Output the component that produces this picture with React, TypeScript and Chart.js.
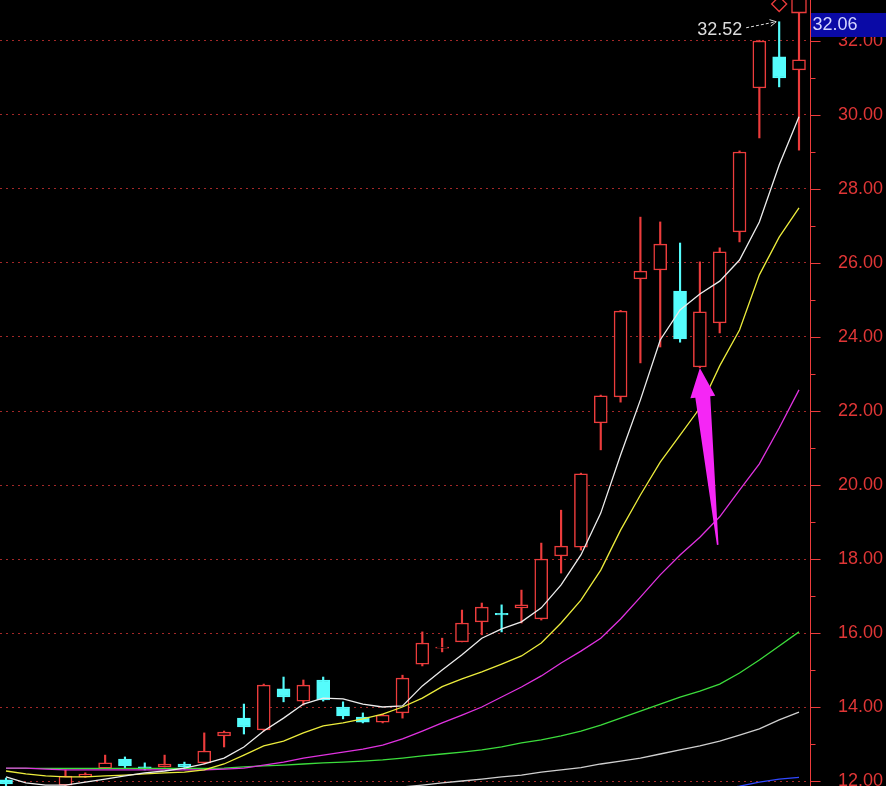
import React, { useEffect, useRef } from "react";
import { Chart, registerables } from "chart.js";

Chart.register(...registerables);

// trading days (index)
const days = Array.from({ length: 41 }, (_, i) => i);

const opens = [12.03, 11.84, 11.78, 11.89, 12.11, 12.35, 12.59, 12.38, 12.38, 12.46, 12.49, 13.22, 13.70, 13.38, 14.49, 14.16, 14.73, 14.00, 13.73, 13.59, 13.84, 15.16, 15.59, 15.76, 16.30, 16.53, 16.68, 16.38, 18.08, 18.32, 21.68, 22.38, 25.57, 25.81, 25.24, 23.19, 24.38, 26.84, 30.73, 31.57, 31.22];
const closes = [11.92, 11.78, 11.82, 12.13, 12.19, 12.49, 12.41, 12.32, 12.46, 12.38, 12.81, 13.32, 13.46, 14.59, 14.27, 14.59, 14.19, 13.76, 13.59, 13.78, 14.78, 15.73, 15.62, 16.27, 16.70, 16.49, 16.76, 18.00, 18.35, 20.30, 22.41, 24.70, 25.78, 26.51, 23.95, 24.68, 26.30, 29.00, 32.00, 31.00, 31.49];
const highs = [12.08, 11.86, 11.85, 12.30, 12.22, 12.70, 12.65, 12.49, 12.70, 12.51, 13.30, 13.35, 14.08, 14.62, 14.81, 14.73, 14.81, 14.14, 13.84, 13.81, 14.86, 16.03, 15.86, 16.62, 16.81, 16.76, 17.16, 18.43, 19.32, 20.32, 22.43, 24.72, 27.24, 27.11, 26.54, 26.03, 26.41, 29.03, 32.02, 32.52, 32.76];
const lows = [11.86, 11.72, 11.74, 11.87, 12.10, 12.35, 12.35, 12.30, 12.38, 12.32, 12.46, 12.92, 13.27, 13.35, 14.14, 14.05, 14.16, 13.68, 13.57, 13.57, 13.70, 15.11, 15.49, 15.76, 15.95, 16.03, 16.27, 16.35, 17.62, 18.24, 20.95, 22.24, 23.30, 23.73, 23.86, 23.17, 24.11, 26.57, 29.38, 30.76, 29.05];

const maWhite = [12.11, 11.95, 11.89, 11.89, 11.97, 12.05, 12.14, 12.22, 12.27, 12.35, 12.46, 12.62, 12.92, 13.35, 13.70, 14.08, 14.24, 14.22, 14.08, 14.00, 14.03, 14.57, 15.00, 15.41, 15.86, 16.11, 16.30, 16.68, 17.30, 18.11, 19.24, 20.81, 22.30, 23.92, 24.73, 25.16, 25.51, 26.08, 27.11, 28.65, 29.95];
const maYellow = [12.27, 12.19, 12.14, 12.11, 12.11, 12.14, 12.16, 12.19, 12.22, 12.24, 12.30, 12.46, 12.70, 12.95, 13.08, 13.30, 13.49, 13.57, 13.68, 13.81, 14.00, 14.24, 14.55, 14.76, 14.95, 15.16, 15.38, 15.73, 16.27, 16.89, 17.70, 18.78, 19.73, 20.62, 21.35, 22.08, 23.22, 24.19, 25.68, 26.70, 27.49];
const maMagenta = [12.35, 12.35, 12.32, 12.30, 12.30, 12.30, 12.30, 12.30, 12.30, 12.30, 12.30, 12.32, 12.35, 12.43, 12.51, 12.62, 12.70, 12.78, 12.86, 12.97, 13.14, 13.35, 13.57, 13.78, 14.00, 14.27, 14.54, 14.84, 15.19, 15.51, 15.86, 16.38, 16.97, 17.57, 18.11, 18.59, 19.14, 19.86, 20.57, 21.54, 22.57];
const maGreen = [12.34, 12.34, 12.34, 12.34, 12.34, 12.34, 12.34, 12.34, 12.34, 12.34, 12.34, 12.35, 12.38, 12.41, 12.43, 12.46, 12.49, 12.51, 12.54, 12.57, 12.62, 12.68, 12.73, 12.78, 12.84, 12.92, 13.03, 13.11, 13.22, 13.35, 13.51, 13.70, 13.89, 14.08, 14.27, 14.43, 14.62, 14.92, 15.27, 15.65, 16.03];
const maGray = [null, null, null, null, null, null, null, null, null, null, null, null, null, null, null, null, null, null, null, 11.80, 11.84, 11.89, 11.95, 12.00, 12.05, 12.11, 12.16, 12.24, 12.30, 12.36, 12.46, 12.54, 12.62, 12.73, 12.84, 12.95, 13.08, 13.24, 13.41, 13.65, 13.86];
const maBlue = [null, null, null, null, null, null, null, null, null, null, null, null, null, null, null, null, null, null, null, null, null, null, null, null, null, null, null, null, null, null, null, null, null, null, null, null, 11.78, 11.86, 11.97, 12.05, 12.10];

const yTicks = [12, 14, 16, 18, 20, 22, 24, 26, 28, 30, 32];
const yMinorTicks = [13, 15, 17, 19, 21, 23, 25, 27, 29, 31];

const peakLabel = { index: 39, value: 32.52, text: "32.52" };
const priceTag = { value: 32.06, text: "32.06" };
const arrowTail = { x: 35.9, y: 18.38 };
const arrowTip = { x: 35.0, y: 23.16 };
const topMarks = [{ x: 39, y: 33.0 }, { x: 40, y: 32.96 }];

const RED = "#ec3c3c";
const CYAN = "#55fcfc";
const FONT = "Liberation Sans";

export default function App() {
  const ref = useRef<HTMLCanvasElement>(null);

  useEffect(() => {
    document.body.style.margin = "0";
    document.body.style.background = "#000";
    const up = opens.map((o, i) => closes[i] >= o);

    const overlay = {
      id: "overlay",
      beforeDraw(chart: any) {
        const c = chart.ctx;
        c.save();
        c.fillStyle = "#000";
        c.fillRect(0, 0, chart.width, chart.height);
        c.restore();
      },
      afterDatasetsDraw(chart: any) {
        const c = chart.ctx;
        const xs = chart.scales.x;
        const ys = chart.scales.y;
        // magenta arrow
        const tx = xs.getPixelForValue(arrowTip.x);
        const ty = ys.getPixelForValue(arrowTip.y);
        const bx = xs.getPixelForValue(arrowTail.x);
        const by = ys.getPixelForValue(arrowTail.y);
        const len = Math.hypot(tx - bx, ty - by);
        const ux = (tx - bx) / len, uy = (ty - by) / len;
        const nx = -uy, ny = ux;
        const hl = 29, hw = 12.5, sw = 7.5, tw = 0.8;
        const hx = tx - ux * hl, hy = ty - uy * hl;
        c.save();
        c.fillStyle = "#f526f5";
        c.beginPath();
        c.moveTo(bx + nx * tw, by + ny * tw);
        c.lineTo(hx + nx * sw, hy + ny * sw);
        c.lineTo(hx + nx * hw, hy + ny * hw);
        c.lineTo(tx, ty);
        c.lineTo(hx - nx * hw, hy - ny * hw);
        c.lineTo(hx - nx * sw, hy - ny * sw);
        c.lineTo(bx - nx * tw, by - ny * tw);
        c.closePath();
        c.fill();
        c.restore();

        // peak label with dashed arrow
        const px = xs.getPixelForValue(peakLabel.index);
        const py = ys.getPixelForValue(peakLabel.value);
        c.save();
        c.fillStyle = "#dcdcdc";
        c.font = `18px "${FONT}"`;
        c.textAlign = "right";
        c.textBaseline = "middle";
        c.fillText(peakLabel.text, px - 37, py + 8);
        c.strokeStyle = "#dcdcdc";
        c.lineWidth = 1;
        const x1 = px - 33, y1 = py + 6, x2 = px - 3, y2 = py;
        c.setLineDash([3, 2]);
        c.beginPath();
        c.moveTo(x1, y1);
        c.lineTo(x2, y2);
        c.stroke();
        c.setLineDash([]);
        const ang = Math.atan2(y2 - y1, x2 - x1);
        c.beginPath();
        c.moveTo(x2 - 7 * Math.cos(ang - 0.5), y2 - 7 * Math.sin(ang - 0.5));
        c.lineTo(x2, y2);
        c.lineTo(x2 - 7 * Math.cos(ang + 0.5), y2 - 7 * Math.sin(ang + 0.5));
        c.stroke();
        c.restore();
      },
      afterDraw(chart: any) {
        const c = chart.ctx;
        const ys = chart.scales.y;
        const area = chart.chartArea;
        const ax = Math.round(area.right) + 0.5;
        c.save();
        c.strokeStyle = RED;
        c.lineWidth = 1;
        c.beginPath();
        c.moveTo(ax, 0);
        c.lineTo(ax, chart.height);
        c.stroke();
        yTicks.forEach((v) => {
          const y = Math.round(ys.getPixelForValue(v)) + 0.5;
          c.beginPath();
          c.moveTo(ax, y);
          c.lineTo(ax + 10, y);
          c.stroke();
        });
        yMinorTicks.forEach((v) => {
          const y = Math.round(ys.getPixelForValue(v)) + 0.5;
          c.beginPath();
          c.moveTo(ax, y);
          c.lineTo(ax + 5, y);
          c.stroke();
        });
        // price tag
        const tagTop = Math.round(ys.getPixelForValue(priceTag.value)) - 26;
        c.fillStyle = "#0a0aa6";
        c.fillRect(ax + 0.5, tagTop, chart.width - ax, 24);
        c.fillStyle = "#d4d6ff";
        c.font = `18px "${FONT}"`;
        c.textAlign = "left";
        c.textBaseline = "middle";
        c.fillText(priceTag.text, ax + 2, tagTop + 12.5);
        c.restore();
      },
    };

    const line = (data: any[], color: string) => ({
      type: "line" as const,
      data,
      borderColor: color,
      borderWidth: 1.3,
      pointRadius: 0,
      tension: 0,
      spanGaps: false,
      order: 0,
    });

    const chart = new Chart(ref.current as HTMLCanvasElement, {
      type: "bar",
      data: {
        labels: days,
        datasets: [
          line(maWhite, "#ececec"),
          line(maYellow, "#ecec3c"),
          line(maMagenta, "#e032e0"),
          line(maGreen, "#3cdc3c"),
          line(maGray, "#cfcfcf"),
          line(maBlue, "#3048ff"),
          {
            type: "line" as const,
            data: topMarks as any,
            showLine: false,
            pointStyle: ["rectRot", "rect"],
            pointRadius: [7.5, 9.9],
            pointBorderColor: RED,
            pointBackgroundColor: "rgba(0,0,0,0)",
            pointBorderWidth: 1.3,
            order: 0,
          } as any,
          {
            type: "bar" as const,
            data: opens.map((o, i) => [o, closes[i]]) as any,
            backgroundColor: up.map((u) => (u ? "#000" : CYAN)),
            borderColor: up.map((u) => (u ? RED : CYAN)),
            borderWidth: 1.5,
            borderSkipped: false,
            barThickness: 13,
            grouped: false,
            order: 1,
          },
          {
            type: "bar" as const,
            data: lows.map((l, i) => [l, highs[i]]) as any,
            backgroundColor: up.map((u) => (u ? RED : CYAN)),
            borderWidth: 0,
            barThickness: 1.5,
            grouped: false,
            order: 2,
          },
        ],
      },
      options: {
        responsive: false,
        animation: false,
        devicePixelRatio: 1,
        layout: { padding: 0, autoPadding: false },
        events: [],
        plugins: { legend: { display: false }, tooltip: { enabled: false } },
        scales: {
          x: {
            type: "linear",
            display: false,
            offset: false,
            min: -0.303,
            max: 40.555,
            afterFit: (s: any) => {
              s.paddingLeft = 0;
              s.paddingRight = 0;
              s.paddingTop = 0;
              s.paddingBottom = 0;
            },
          },
          y: {
            position: "right",
            min: 11.865,
            max: 33.108,
            afterBuildTicks: (s: any) => {
              s.ticks = yTicks.map((v) => ({ value: v }));
            },
            afterFit: (s: any) => {
              s.width = 76;
              s.paddingTop = 0;
              s.paddingBottom = 0;
              s.paddingLeft = 0;
              s.paddingRight = 0;
            },
            grid: {
              color: "#a42828",
              lineWidth: 1,
              drawTicks: true,
              tickLength: 28,
              tickColor: "rgba(0,0,0,0)",
              tickWidth: 1,
              tickBorderDash: [],
              borderDash: [2, 4],
            } as any,
            border: { display: false, dash: [2, 4] },
            ticks: {
              color: "#e03636",
              font: { family: FONT, size: 18 },
              padding: 0,
              autoSkip: false,
              callback: (v: any) => Number(v).toFixed(2),
            },
          },
        },
      } as any,
      plugins: [overlay],
    });
    return () => chart.destroy();
  }, []);

  return (
    <div style={{ position: "absolute", left: 0, top: 0, width: 886, height: 786, background: "#000" }}>
      <canvas ref={ref} width={886} height={786} style={{ display: "block" }} />
    </div>
  );
}
